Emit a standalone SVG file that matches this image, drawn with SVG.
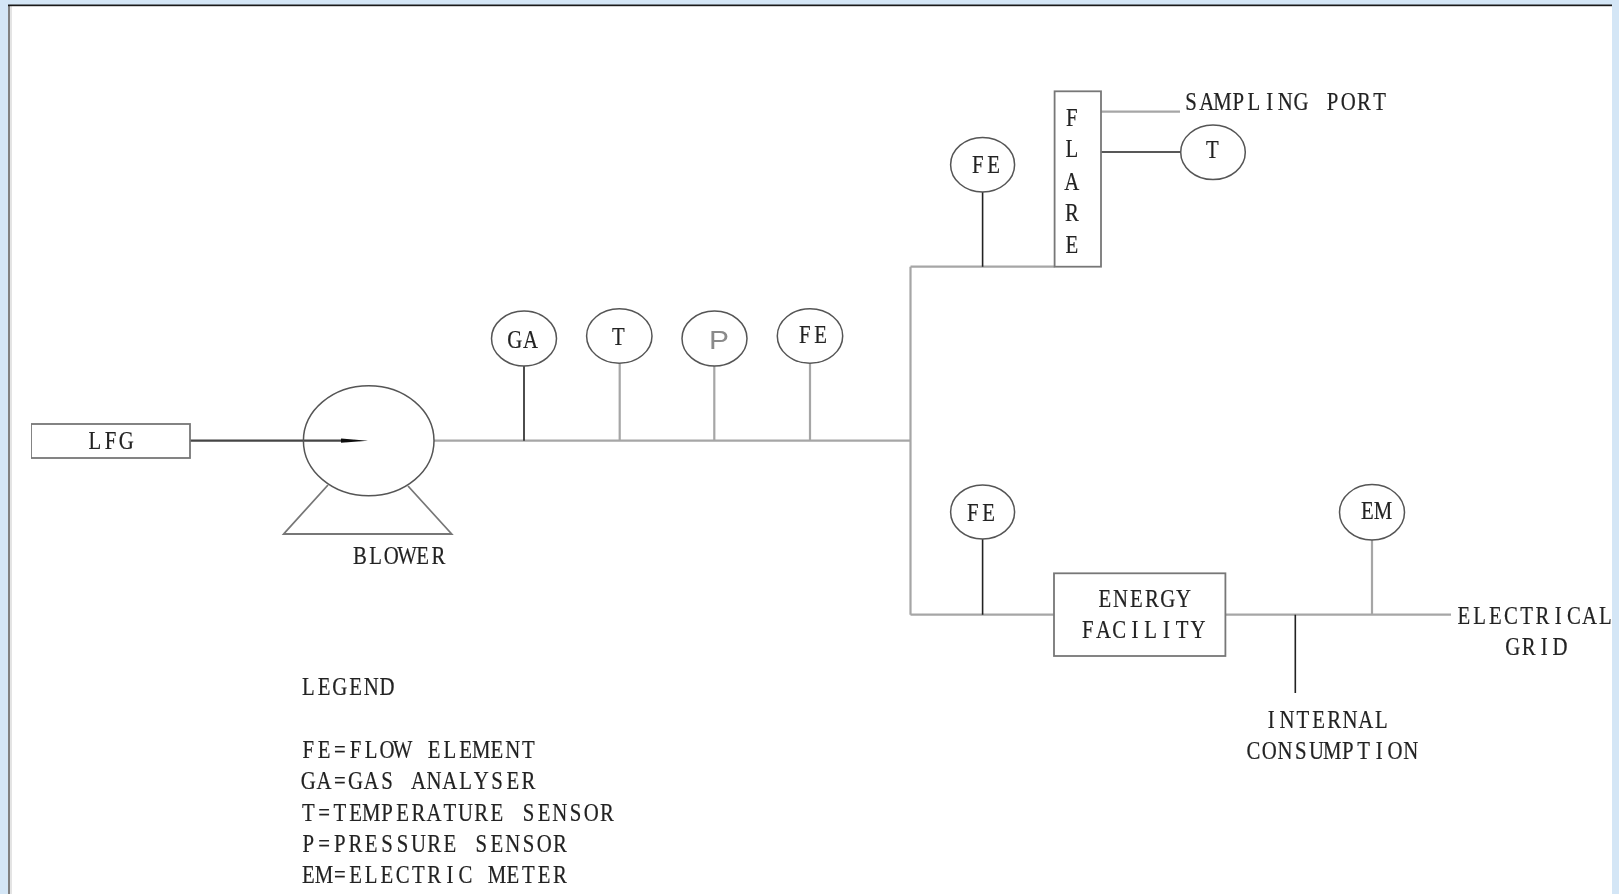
<svg xmlns="http://www.w3.org/2000/svg" width="1619" height="894" viewBox="0 0 1619 894">
<defs><filter id="soft" x="0" y="0" width="1" height="1" filterUnits="objectBoundingBox"><feGaussianBlur stdDeviation="0.35"/></filter></defs>
<style>
text{font-family:"Liberation Serif","Times New Roman",serif;font-size:26px;fill:#222;stroke:#222;stroke-width:.2;text-anchor:middle}
.s{fill:#fff;stroke:#555;stroke-width:1.5}
.b{fill:none;stroke:#777;stroke-width:1.8}
.g{fill:none;stroke:#a6a6a6;stroke-width:2.2}
.k{fill:none;stroke:#222;stroke-width:1.6}
</style>
<rect width="1619" height="894" fill="#d4e6f6"/>
<rect x="9" y="5" width="1603" height="889" fill="#fff"/>
<rect x="8" y="5" width="2" height="889" fill="#808080"/>
<rect x="10" y="6" width="2" height="888" fill="#e4e4e4"/>
<rect x="8" y="4.5" width="1604" height="1.7" fill="#1a1a1a"/>
<g filter="url(#soft)">
<g id="connectors">
<path class="g" d="M434 440.7H910.5M910.5 266.7V614.7M910.5 266.7H1054.6M910.5 614.7H1054M1225.4 614.7H1451M1101 111.7H1180M619.7 363.3V440.7M714.3 366V440.7M810 363.3V440.7M1372 540V614.7"/>
<path class="k" d="M524 366V440.7M982.6 192V266.7M982.6 539V614.7M1101 152H1180.7M1295.3 614.7V693"/>
<path d="M190 440.7H342" fill="none" stroke="#444" stroke-width="2.2"/>
<polygon points="341,438.6 368,440.7 341,442.8" fill="#111"/>
</g>
<g id="lfg"><rect x="31" y="424" width="159" height="34" fill="none" stroke="#777" stroke-width="1.8"/><text transform="translate(87 449) scale(.8 1)" x="9.8 29.5 49.1">LFG</text></g>
<g id="blower"><ellipse cx="368.7" cy="440.7" rx="65.3" ry="55" fill="none" stroke="#555" stroke-width="1.5"/><path class="b" d="M328 485L283.7 534H451.7L408 486"/><text transform="translate(352 564) scale(.8 1)" x="9.8 29.5 49.1 68.8 88.4 108.1">BLOWER</text></g>
<g id="ga"><ellipse class="s" cx="524" cy="338.5" rx="32.5" ry="27.5"/><text transform="translate(507 348.3) scale(.8 1)" x="9.8 29.5">GA</text></g>
<g id="t1"><ellipse class="s" cx="619.3" cy="336" rx="32.7" ry="27.2"/><text transform="translate(610.5 345) scale(.8 1)" x="9.8">T</text></g>
<g id="p"><ellipse class="s" cx="714.5" cy="338.5" rx="32.5" ry="27.5"/><text x="719" y="349.3" style="font-family:'Liberation Sans',Arial,sans-serif;font-size:25px;fill:#8a8a8a;stroke:none" textLength="20" lengthAdjust="spacingAndGlyphs">P</text></g>
<g id="fe1"><ellipse class="s" cx="810" cy="336" rx="32.7" ry="27.2"/><text transform="translate(797 343.3) scale(.8 1)" x="9.8 29.5">FE</text></g>
<g id="fe2"><ellipse class="s" cx="982.6" cy="164.7" rx="32" ry="27.3"/><text transform="translate(970 172.7) scale(.8 1)" x="9.8 29.5">FE</text></g>
<g id="flare"><rect x="1054.6" y="91.3" width="46.4" height="175.4" fill="none" stroke="#777" stroke-width="1.8"/><text transform="translate(1064 126) scale(.8 1)" x="9.8">F</text><text transform="translate(1064 157) scale(.8 1)" x="9.8">L</text><text transform="translate(1064 189.5) scale(.8 1)" x="9.8">A</text><text transform="translate(1064 221) scale(.8 1)" x="9.8">R</text><text transform="translate(1064 253) scale(.8 1)" x="9.8">E</text></g>
<g id="sampling"><text transform="translate(1183.2 110) scale(.8 1)" x="9.8 29.5 49.1 68.8 88.4 108.1 127.7 147.4 167 186.7 206.3 226 245.6">SAMPLING PORT</text></g>
<g id="t2"><ellipse class="s" cx="1213" cy="152.3" rx="32.3" ry="27.3"/><text transform="translate(1204.5 158) scale(.8 1)" x="9.8">T</text></g>
<g id="fe3"><ellipse class="s" cx="982.6" cy="512" rx="32" ry="27"/><text transform="translate(965 521) scale(.8 1)" x="9.8 29.5">FE</text></g>
<g id="energy"><rect x="1054" y="573.3" width="171.4" height="82.7" fill="none" stroke="#777" stroke-width="1.8"/><text transform="translate(1097 606.7) scale(.8 1)" x="9.8 29.5 49.1 68.8 88.4 108.1">ENERGY</text><text transform="translate(1080 637.7) scale(.8 1)" x="9.8 29.5 49.1 68.8 88.4 108.1 127.7 147.4">FACILITY</text></g>
<g id="em"><ellipse class="s" cx="1372" cy="512.3" rx="32.5" ry="27.7"/><text transform="translate(1359.5 519) scale(.8 1)" x="9.8 29.5">EM</text></g>
<g id="grid"><text transform="translate(1456 624) scale(.8 1)" x="9.8 29.5 49.1 68.8 88.4 108.1 127.7 147.4 167 186.7">ELECTRICAL</text><text transform="translate(1505 655) scale(.8 1)" x="9.8 29.5 49.1 68.8">GRID</text></g>
<g id="internal"><text transform="translate(1263.5 728.3) scale(.8 1)" x="9.8 29.5 49.1 68.8 88.4 108.1 127.7 147.4">INTERNAL</text><text transform="translate(1245.7 759.3) scale(.8 1)" x="9.8 29.5 49.1 68.8 88.4 108.1 127.7 147.4 167 186.7 206.3">CONSUMPTION</text></g>
<g id="legend"><text transform="translate(300.5 695) scale(.8 1)" x="9.8 29.5 49.1 68.8 88.4 108.1">LEGEND</text><text transform="translate(300.5 757.7) scale(.8 1)" x="9.8 29.5 49.1 68.8 88.4 108.1 127.7 147.4 167 186.7 206.3 226 245.6 265.3 284.9">FE=FLOW ELEMENT</text><text transform="translate(300.5 789.3) scale(.8 1)" x="9.8 29.5 49.1 68.8 88.4 108.1 127.7 147.4 167 186.7 206.3 226 245.6 265.3 284.9">GA=GAS ANALYSER</text><text transform="translate(300.5 821) scale(.8 1)" x="9.8 29.5 49.1 68.8 88.4 108.1 127.7 147.4 167 186.7 206.3 226 245.6 265.3 284.9 304.6 324.2 343.9 363.5 383.2">T=TEMPERATURE SENSOR</text><text transform="translate(300.5 852.3) scale(.8 1)" x="9.8 29.5 49.1 68.8 88.4 108.1 127.7 147.4 167 186.7 206.3 226 245.6 265.3 284.9 304.6 324.2">P=PRESSURE SENSOR</text><text transform="translate(300.5 883.3) scale(.8 1)" x="9.8 29.5 49.1 68.8 88.4 108.1 127.7 147.4 167 186.7 206.3 226 245.6 265.3 284.9 304.6 324.2">EM=ELECTRIC METER</text></g>
</g>
</svg>
